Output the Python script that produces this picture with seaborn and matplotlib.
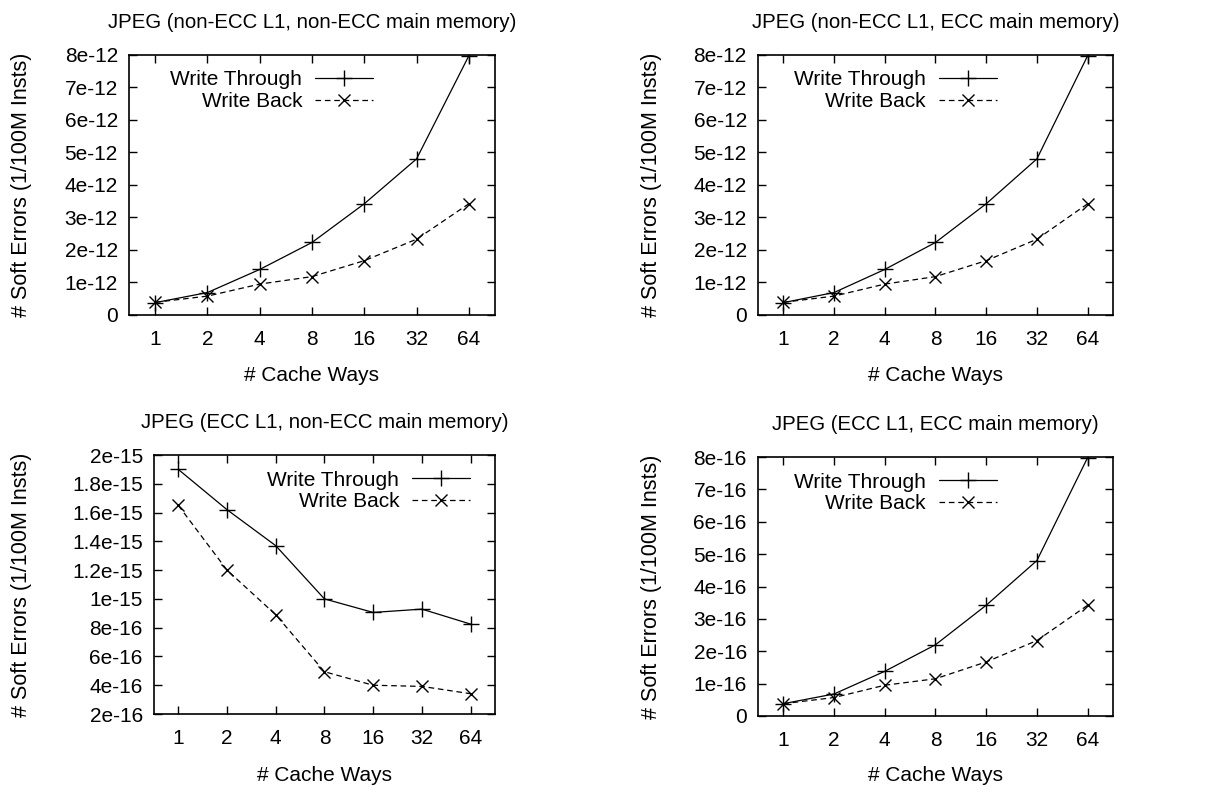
import numpy as np
import pandas as pd
import matplotlib
matplotlib.use("Agg")
import matplotlib.pyplot as plt
import seaborn as sns

# Data
ways = [1, 2, 4, 8, 16, 32, 64]
way_labels = ["1", "2", "4", "8", "16", "32", "64"]

# non-ECC L1 (both main memory variants look identical)
wt_nonecc = [0.38e-12, 0.69e-12, 1.40e-12, 2.23e-12, 3.42e-12, 4.80e-12, 7.97e-12]
wb_nonecc = [0.39e-12, 0.58e-12, 0.95e-12, 1.18e-12, 1.67e-12, 2.33e-12, 3.42e-12]

# ECC L1, non-ECC main memory
wt_ecc_l1 = [1.90e-15, 1.62e-15, 1.37e-15, 1.00e-15, 9.06e-16, 9.29e-16, 8.25e-16]
wb_ecc_l1 = [1.65e-15, 1.20e-15, 8.90e-16, 4.94e-16, 4.00e-16, 3.92e-16, 3.41e-16]

# ECC L1, ECC main memory
wt_ecc_both = [0.38e-16, 0.68e-16, 1.38e-16, 2.20e-16, 3.42e-16, 4.80e-16, 7.98e-16]
wb_ecc_both = [0.38e-16, 0.57e-16, 0.95e-16, 1.15e-16, 1.67e-16, 2.33e-16, 3.42e-16]

titles = [
    "JPEG (non-ECC L1, non-ECC main memory)",
    "JPEG (non-ECC L1, ECC main memory)",
    "JPEG (ECC L1, non-ECC main memory)",
    "JPEG (ECC L1, ECC main memory)",
]
yticks_top = [i * 1e-12 for i in range(9)]
yticks_bl = [i * 2e-16 for i in range(1, 11)]
yticks_br = [i * 1e-16 for i in range(9)]

sns.set_style("ticks")
plt.rcParams["font.family"] = ["Liberation Sans", "DejaVu Sans"]
plt.rcParams["font.size"] = 15
plt.rcParams["text.color"] = "black"
plt.rcParams["axes.labelcolor"] = "black"
plt.rcParams["axes.titlecolor"] = "black"

fig = plt.figure(figsize=(12.17, 7.93), dpi=100)

# axes boxes (left, bottom, width, height) in figure fractions
boxes = [
    [0.106, 0.6028, 0.3007, 0.328],
    [0.6228, 0.6028, 0.2917, 0.328],
    [0.1265, 0.0996, 0.2802, 0.3266],
    [0.6228, 0.0971, 0.2917, 0.3266],
]
series = [
    (wt_nonecc, wb_nonecc, yticks_top),
    (wt_nonecc, wb_nonecc, yticks_top),
    (wt_ecc_l1, wb_ecc_l1, yticks_bl),
    (wt_ecc_both, wb_ecc_both, yticks_br),
]
ylabel_x = [-0.265, -0.270, -0.358, -0.270]
xlabel_y = [-0.196, -0.196, -0.200, -0.193]
legend_x = [0.667, 0.673, 0.927, 0.673]

for i in range(4):
    ax = fig.add_axes(boxes[i])
    wt, wb, yt = series[i]
    df = pd.DataFrame({"ways": ways, "Write Through": wt, "Write Back": wb})

    sns.lineplot(data=df, x="ways", y="Write Through", ax=ax, color="black",
                 linewidth=0.9, marker="+", markersize=11, markeredgewidth=1.0,
                 markeredgecolor="black", label="Write Through")
    sns.lineplot(data=df, x="ways", y="Write Back", ax=ax, color="black",
                 linewidth=0.9, linestyle=(0, (4.5, 3)), marker="x", markersize=8,
                 markeredgewidth=1.0, markeredgecolor="black", label="Write Back")

    ax.set_xscale("log", base=2)
    ax.set_xlim(2 ** -0.5, 2 ** 6.5)
    ax.set_xticks(ways)
    ax.set_xticklabels(way_labels)
    ax.minorticks_off()
    ax.set_ylim(yt[0], yt[-1])
    ax.set_yticks(yt)
    ax.set_yticklabels(["0" if v == 0 else f"{v:g}" for v in yt])

    ax.tick_params(direction="in", length=6, width=1, top=True, right=True,
                   labelsize=15, colors="black")
    ax.tick_params(axis="x", pad=11)
    ax.tick_params(axis="y", pad=8)
    for sp in ax.spines.values():
        sp.set_linewidth(1.2)
        sp.set_color("black")

    ax.set_title(titles[i], fontsize=14.7, pad=19.5, color="black")
    ax.set_xlabel("# Cache Ways", fontsize=15)
    ax.set_ylabel("# Soft Errors (1/100M Insts)", fontsize=15.5)
    ax.xaxis.set_label_coords(0.5, xlabel_y[i])
    ax.yaxis.set_label_coords(ylabel_x[i], 0.5)

    leg = ax.legend(loc="upper right", bbox_to_anchor=(legend_x[i], 0.94),
                    frameon=False, markerfirst=False, alignment="right",
                    handlelength=2.8, handletextpad=0.6, labelspacing=0.12,
                    borderpad=0, borderaxespad=0, fontsize=15)
    for t in leg.get_texts():
        t.set_color("black")

fig.savefig("out.png", dpi=100)
